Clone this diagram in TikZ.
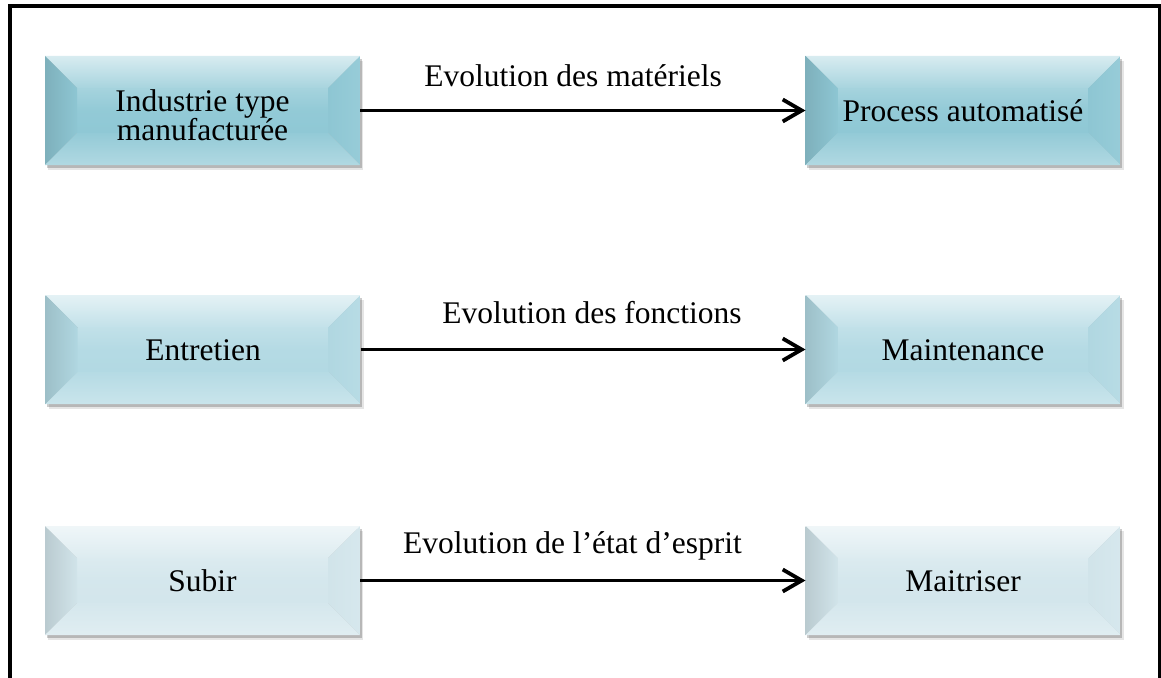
\documentclass[tikz,border=0pt]{standalone}
\usepackage{fontspec}
\setmainfont{Liberation Serif}
\usetikzlibrary{arrows.meta,shadows,calc}

% face colours of the three rows
\definecolor{rowA}{RGB}{143,200,213}
\definecolor{rowB}{RGB}{178,217,227}
\definecolor{rowC}{RGB}{211,230,236}

\newcommand{\bvin}{32pt}

\tikzset{
  txt/.style={font=\fontsize{31.5}{29}\selectfont, inner sep=0pt, outer sep=0pt},
  bevelbox/.style={
    txt, rectangle, minimum width=315pt, minimum height=109pt,
    align=center, text height=22pt, text depth=0pt,
    drop shadow={shadow xshift=3pt, shadow yshift=-5pt, opacity=.10, fill=black},
    drop shadow={shadow xshift=1.5pt, shadow yshift=-3pt, opacity=.20, fill=black},
    path picture={
      \coordinate (nw) at (path picture bounding box.north west);
      \coordinate (ne) at (path picture bounding box.north east);
      \coordinate (sw) at (path picture bounding box.south west);
      \coordinate (se) at (path picture bounding box.south east);
      \coordinate (inw) at ($(nw)+(\bvin,-\bvin)$);
      \coordinate (ine) at ($(ne)+(-\bvin,-\bvin)$);
      \coordinate (isw) at ($(sw)+(\bvin,\bvin)$);
      \coordinate (ise) at ($(se)+(-\bvin,\bvin)$);
      % central face
      \shade[top color=#1!80!white, bottom color=#1, middle color=#1!97!white]
        (inw) -- (ine) -- (ise) -- (isw) -- cycle;
      % upper bevel
      \shade[top color=#1!35!white, bottom color=#1!78!white]
        (nw) -- (ne) -- (ine) -- (inw) -- cycle;
      % left bevel
      \shade[left color=#1!88!black, right color=#1!99!black]
        (nw) -- (inw) -- (isw) -- (sw) -- cycle;
      % right bevel
      \shade[left color=#1!99!black, right color=#1!93!white]
        (ne) -- (ine) -- (ise) -- (se) -- cycle;
      % lower bevel
      \shade[top color=#1!96!white, bottom color=#1!70!white]
        (sw) -- (isw) -- (ise) -- (se) -- cycle;
    }
  },
  lbl/.style={txt, anchor=base},
  arr/.style={line width=3.8pt, -{Straight Barb[length=19pt, width=22pt]}},
  frame/.style={line width=4pt, line join=miter}
}

\begin{document}
\begin{tikzpicture}[x=1pt, y=-1pt]
  \useasboundingbox (0,0) rectangle (1161,677);
  \clip (0,0) rectangle (1161,677);
  \fill[white] (0,0) rectangle (1161,677);

  % outer frame, open at the bottom
  \draw[frame] (10,700) -- (10,6.5) -- (1159.5,6.5) -- (1159.5,700);

  % first row
  \node[bevelbox=rowA, text height=59pt, text depth=0pt] (a1) at (202.5,110.5)
    {Industrie type\\manufacturée};
  \node[bevelbox=rowA] (b1) at (963,110.5) {Process automatisé};
  \node[lbl] (l1) at (573,86) {Evolution des matériels};
  \draw[arr] (a1.east) -- (b1.west);

  % second row
  \node[bevelbox=rowB] (a2) at (203,349.5) {Entretien};
  \node[bevelbox=rowB] (b2) at (963,349.5) {Maintenance};
  \node[lbl] (l2) at (592,323) {Evolution des fonctions};
  \draw[arr] (a2.east) -- (b2.west);

  % third row
  \node[bevelbox=rowC] (a3) at (202.5,580.5) {Subir};
  \node[bevelbox=rowC] (b3) at (963,580.5) {Maitriser};
  \node[lbl] (l3) at (572.5,553) {Evolution de l’état d’esprit};
  \draw[arr] (a3.east) -- (b3.west);
\end{tikzpicture}
\end{document}
